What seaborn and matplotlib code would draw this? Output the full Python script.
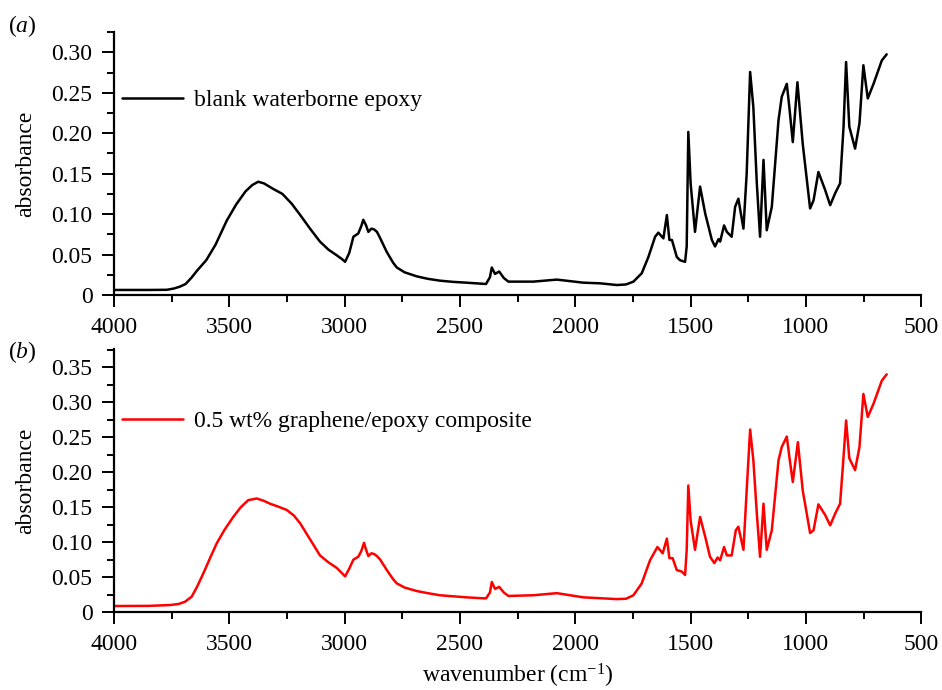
import matplotlib
matplotlib.use("Agg")
import matplotlib.pyplot as plt
from matplotlib.ticker import MultipleLocator, FuncFormatter
import pandas as pd
import seaborn as sns

# panel (a): blank waterborne epoxy
wn_a = [3996, 3850, 3771, 3740, 3714, 3690, 3665, 3640, 3600, 3560, 3511, 3470,
        3430, 3400, 3375, 3350, 3309, 3270, 3230, 3193, 3150, 3107, 3070, 3034,
        3010, 2998, 2980, 2962, 2941, 2928, 2919, 2907, 2897, 2884, 2872, 2860,
        2849, 2817, 2790, 2774, 2740, 2687, 2640, 2587, 2530, 2471, 2420, 2387,
        2370, 2362, 2348, 2330, 2310, 2290, 2182, 2080, 1965, 1892, 1820, 1780,
        1748, 1712, 1683, 1654, 1640, 1618, 1603, 1592, 1581, 1560, 1546, 1524,
        1517, 1510, 1500, 1481, 1459, 1437, 1408, 1394, 1379, 1372, 1355, 1343,
        1322, 1307, 1293, 1271, 1257, 1242, 1228, 1213, 1199, 1184, 1170, 1148,
        1119, 1105, 1083, 1072, 1057, 1037, 1014, 982, 967, 946, 917, 895, 873,
        852, 837, 826, 812, 787, 768, 751, 732, 707, 671, 650]
abs_a = [0.0062, 0.0062, 0.0064, 0.008, 0.0103, 0.0135, 0.021, 0.030, 0.043,
         0.062, 0.092, 0.112, 0.128, 0.136, 0.140, 0.138, 0.131, 0.125, 0.113,
         0.099, 0.082, 0.066, 0.056, 0.049, 0.044, 0.041, 0.052, 0.072, 0.076,
         0.085, 0.093, 0.086, 0.078, 0.082, 0.081, 0.078, 0.072, 0.053, 0.040,
         0.034, 0.028, 0.023, 0.020, 0.0177, 0.0162, 0.0152, 0.0142, 0.0136,
         0.022, 0.034, 0.026, 0.029, 0.021, 0.0165, 0.0165, 0.019, 0.0152,
         0.0144, 0.0123, 0.013, 0.0165, 0.0268, 0.047, 0.072, 0.077, 0.070,
         0.0988, 0.068, 0.068, 0.047, 0.043, 0.041, 0.060, 0.2016, 0.138, 0.078,
         0.134, 0.101, 0.068, 0.060, 0.069, 0.066, 0.086, 0.078, 0.072, 0.109,
         0.119, 0.082, 0.150, 0.2757, 0.232, 0.138, 0.072, 0.167, 0.080, 0.109,
         0.216, 0.245, 0.261, 0.232, 0.189, 0.263, 0.187, 0.107, 0.117, 0.152,
         0.130, 0.111, 0.126, 0.138, 0.208, 0.288, 0.208, 0.181, 0.212, 0.284,
         0.243, 0.261, 0.290, 0.2975]

# panel (b): 0.5 wt% graphene/epoxy composite
wn_b = [3996, 3850, 3757, 3720, 3692, 3663, 3640, 3613, 3585, 3555, 3520, 3483,
        3450, 3418, 3381, 3350, 3324, 3290, 3251, 3220, 3193, 3150, 3107, 3070,
        3034, 3010, 2998, 2980, 2962, 2941, 2928, 2916, 2907, 2897, 2884, 2872,
        2860, 2846, 2817, 2790, 2774, 2740, 2687, 2640, 2587, 2530, 2471, 2420,
        2387, 2370, 2362, 2348, 2330, 2310, 2290, 2182, 2080, 1965, 1820, 1780,
        1748, 1712, 1676, 1644, 1621, 1603, 1592, 1578, 1560, 1539, 1524, 1517,
        1510, 1500, 1481, 1459, 1437, 1416, 1397, 1383, 1372, 1355, 1343, 1322,
        1304, 1293, 1271, 1257, 1242, 1228, 1213, 1199, 1184, 1170, 1148, 1119,
        1105, 1083, 1072, 1057, 1035, 1014, 982, 967, 946, 917, 895, 873, 852,
        837, 826, 812, 787, 768, 751, 732, 707, 671, 650]
abs_b = [0.0086, 0.0088, 0.010, 0.0115, 0.0147, 0.022, 0.036, 0.055, 0.076,
         0.098, 0.118, 0.136, 0.150, 0.160, 0.1624, 0.159, 0.155, 0.151, 0.146,
         0.138, 0.127, 0.104, 0.081, 0.071, 0.063, 0.055, 0.051, 0.062, 0.075,
         0.079, 0.087, 0.099, 0.089, 0.080, 0.084, 0.083, 0.080, 0.075, 0.060,
         0.047, 0.041, 0.035, 0.030, 0.027, 0.024, 0.0225, 0.021, 0.020, 0.0195,
         0.028, 0.043, 0.033, 0.036, 0.028, 0.023, 0.024, 0.027, 0.021, 0.0185,
         0.019, 0.024, 0.041, 0.074, 0.093, 0.084, 0.105, 0.077, 0.077, 0.060,
         0.058, 0.053, 0.089, 0.181, 0.131, 0.089, 0.136, 0.108, 0.079, 0.070,
         0.078, 0.074, 0.093, 0.081, 0.081, 0.117, 0.122, 0.089, 0.174, 0.261,
         0.217, 0.141, 0.079, 0.155, 0.089, 0.117, 0.217, 0.236, 0.251, 0.222,
         0.186, 0.243, 0.174, 0.113, 0.117, 0.154, 0.139, 0.124, 0.141, 0.155,
         0.222, 0.274, 0.220, 0.203, 0.236, 0.312, 0.279, 0.298, 0.331, 0.340]

labels = ["blank waterborne epoxy", "0.5 wt% graphene/epoxy composite"]
colors = ["black", "#ff0000"]
ytops = [0.325, 0.376]

sns.set_theme(style="ticks")
plt.rcParams["font.family"] = ["Liberation Serif", "DejaVu Serif"]
plt.rcParams["mathtext.fontset"] = "custom"
plt.rcParams["mathtext.rm"] = "Liberation Serif"
plt.rcParams["mathtext.it"] = "Liberation Serif:italic"
plt.rcParams["text.color"] = "black"
plt.rcParams["axes.labelcolor"] = "black"

fig = plt.figure(figsize=(9.42, 6.9), dpi=100)
ax_a = fig.add_axes([0.121, 0.5725, 0.857, 0.381])
ax_b = fig.add_axes([0.121, 0.113, 0.857, 0.381])

datasets = [(wn_a, abs_a), (wn_b, abs_b)]
legend_y = [0.741, 0.726]
fs = 17

for i, ax in enumerate([ax_a, ax_b]):
    df = pd.DataFrame({"wavenumber": datasets[i][0], "absorbance": datasets[i][1]})
    sns.lineplot(data=df, x="wavenumber", y="absorbance", ax=ax, color=colors[i],
                 linewidth=1.8, label=labels[i], sort=False)
    ax.set_xlim(4000, 500)
    ax.set_ylim(0, ytops[i])
    ax.xaxis.set_major_locator(MultipleLocator(500))
    ax.xaxis.set_minor_locator(MultipleLocator(250))
    ax.yaxis.set_major_locator(MultipleLocator(0.05))
    ax.yaxis.set_minor_locator(MultipleLocator(0.025))
    ax.yaxis.set_major_formatter(FuncFormatter(lambda v, p: "0" if abs(v) < 1e-9 else f"{v:.2f}"))
    ax.tick_params(which="major", direction="out", length=8.5, width=1.4, labelsize=fs,
                   pad=7, color="black", labelcolor="black")
    ax.tick_params(which="minor", direction="out", length=5, width=1.4, color="black")
    for s in ["top", "right"]:
        ax.spines[s].set_visible(False)
    for s in ["left", "bottom"]:
        ax.spines[s].set_linewidth(1.6)
        ax.spines[s].set_color("black")
    ax.set_ylabel("absorbance", fontsize=fs)
    ax.yaxis.set_label_coords(-0.096, 0.5)
    ax.set_xlabel("")
    ax.legend(loc="center left", bbox_to_anchor=(0.01, legend_y[i]), frameon=False,
              fontsize=fs, handlelength=2.6, handletextpad=0.45, borderpad=0,
              borderaxespad=0)
    ax.set_facecolor("white")

ax_b.set_xlabel("wavenumber (cm$^{-1}$)", fontsize=fs, labelpad=5)

fig.text(0.008, 0.962, "($a$)", fontsize=fs, va="center", ha="left")
fig.text(0.008, 0.49, "($b$)", fontsize=fs, va="center", ha="left")

fig.savefig("out.png", dpi=100, facecolor="white")
